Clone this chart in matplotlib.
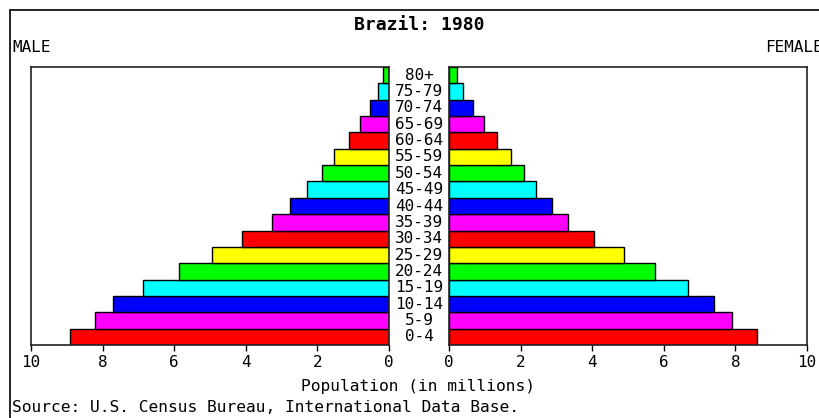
import matplotlib
matplotlib.use("Agg")
import matplotlib.pyplot as plt
from matplotlib.patches import Rectangle
from matplotlib.transforms import blended_transform_factory

# Age groups, bottom to top
ages = ["0-4", "5-9", "10-14", "15-19", "20-24", "25-29", "30-34", "35-39",
        "40-44", "45-49", "50-54", "55-59", "60-64", "65-69", "70-74", "75-79", "80+"]
# Population in millions
male = [8.91, 8.21, 7.72, 6.88, 5.87, 4.95, 4.10, 3.26,
        2.77, 2.30, 1.88, 1.53, 1.12, 0.81, 0.53, 0.30, 0.16]
female = [8.60, 7.90, 7.41, 6.67, 5.75, 4.89, 4.06, 3.33,
          2.89, 2.42, 2.10, 1.72, 1.33, 0.99, 0.68, 0.40, 0.21]
palette = ["#ff0000", "#ff00ff", "#0000ff", "#00ffff", "#00ff00", "#ffff00"]
colors = [palette[i % 6] for i in range(len(ages))]
ticks = [0, 2, 4, 6, 8, 10]

W, H = 819, 418
plt.rcParams["font.family"] = ["DejaVu Sans Mono"]
fig = plt.figure(figsize=(W / 100, H / 100), dpi=100)

# outer frame (right and bottom edges fall outside the picture)
fig.add_artist(Rectangle((10 / W, -0.2), 2, 1 - 10 / H + 0.2, fill=False,
                         edgecolor="black", lw=1.2, transform=fig.transFigure))


def px_axes(x0, x1, ytop, ybot):
    return fig.add_axes([x0 / W, 1 - ybot / H, (x1 - x0) / W, (ybot - ytop) / H])


ax_l = px_axes(31, 389, 67, 345)
ax_r = px_axes(449, 807, 67, 345)
y = list(range(len(ages)))

ax_l.barh(y, male, height=1.0, color=colors, edgecolor="black", linewidth=1.0)
ax_r.barh(y, female, height=1.0, color=colors, edgecolor="black", linewidth=1.0)
ax_l.set_xlim(10, 0)
ax_r.set_xlim(0, 10)

for ax in (ax_l, ax_r):
    ax.set_ylim(-0.5, len(ages) - 0.5)
    ax.set_yticks([])
    ax.set_xticks(ticks)
    ax.set_xticklabels([str(t) for t in ticks])
    ax.tick_params(axis="x", direction="out", length=4, width=1, pad=3, labelsize=11.5)
    for s in ax.spines.values():
        s.set_linewidth(1.2)
        s.set_color("#222222")

trans = blended_transform_factory(fig.transFigure, ax_l.transData)
for i, a in enumerate(ages):
    ax_l.text(419 / W, i, a, transform=trans, ha="center", va="center",
              fontsize=11.5, clip_on=False)

fig.text(419 / W, 1 - 25 / H, "Brazil: 1980", ha="center", va="center",
         fontsize=13, fontweight="bold")
fig.text(12 / W, 1 - 47 / H, "MALE", ha="left", va="center", fontsize=11.5)
fig.text(765 / W, 1 - 47 / H, "FEMALE", ha="left", va="center", fontsize=11.5)
fig.text(418 / W, 1 - 386 / H, "Population (in millions)", ha="center",
         va="center", fontsize=11.7)
fig.text(12 / W, 1 - 408 / H, "Source: U.S. Census Bureau, International Data Base.",
         ha="left", va="center", fontsize=11.7)

fig.savefig("out.png", dpi=100)
